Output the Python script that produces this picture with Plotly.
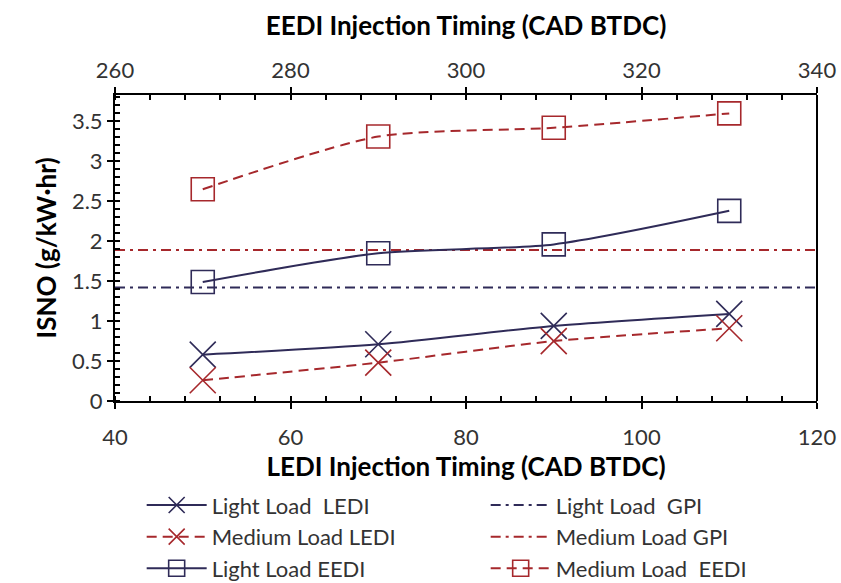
import plotly.graph_objects as go

# ---- data ----
ledi_timing = [50, 70, 90, 110]          # bottom axis (CAD BTDC)
eedi_timing = [270, 290, 310, 330]       # top axis (CAD BTDC)
light_ledi = [0.58, 0.71, 0.94, 1.09]
medium_ledi = [0.26, 0.48, 0.75, 0.91]
light_eedi = [1.49, 1.85, 1.96, 2.38]
medium_eedi = [2.65, 3.31, 3.42, 3.60]
light_gpi = 1.42
medium_gpi = 1.89

x_range = [40, 120]
x2_range = [260, 340]
y_range = [0, 3.83]

NAVY = "#2f2b58"
RED = "#a6282c"
FONT = "Lato, Open Sans, sans-serif"
TXT = "#333333"
DASH = "10px,6px"
DASHDOT = "10px,5px,3px,5px"

fig = go.Figure()

fig.add_trace(go.Scatter(
    x=ledi_timing, y=light_ledi, name="Light Load  LEDI",
    mode="lines+markers", line=dict(color=NAVY, width=2, shape="spline", smoothing=0.7),
    marker=dict(symbol="x-thin-open", size=26, line=dict(color=NAVY, width=1.6)),
))
fig.add_trace(go.Scatter(
    x=x_range, y=[light_gpi, light_gpi], name="Light Load  GPI",
    mode="lines", line=dict(color=NAVY, width=2, dash=DASHDOT),
))
fig.add_trace(go.Scatter(
    x=ledi_timing, y=medium_ledi, name="Medium Load LEDI",
    mode="lines+markers", line=dict(color=RED, width=2, dash=DASH, shape="spline", smoothing=0.7),
    marker=dict(symbol="x-thin-open", size=26, line=dict(color=RED, width=1.6)),
))
fig.add_trace(go.Scatter(
    x=x_range, y=[medium_gpi, medium_gpi], name="Medium Load GPI",
    mode="lines", line=dict(color=RED, width=2, dash=DASHDOT),
))
fig.add_trace(go.Scatter(
    x=eedi_timing, y=light_eedi, name="Light Load EEDI", xaxis="x2",
    mode="lines+markers", line=dict(color=NAVY, width=2, shape="spline", smoothing=0.7),
    marker=dict(symbol="square-open", size=23, line=dict(color=NAVY, width=1.6)),
))
fig.add_trace(go.Scatter(
    x=eedi_timing, y=medium_eedi, name="Medium Load  EEDI", xaxis="x2",
    mode="lines+markers", line=dict(color=RED, width=2, dash=DASH, shape="spline", smoothing=0.7),
    marker=dict(symbol="square-open", size=23, line=dict(color=RED, width=1.6)),
))

axis_common = dict(
    showgrid=False, zeroline=False, showline=True, linecolor="black", linewidth=2,
    ticks="outside", ticklen=6, tickwidth=2, tickcolor="black", automargin=False,
    tickfont=dict(family=FONT, size=22, color=TXT),
)
minor_common = dict(ticks="inside", ticklen=5, tickwidth=1.5, tickcolor="black")
title_font = dict(family=FONT, size=26, color="black")

fig.update_layout(
    width=841, height=583,
    margin=dict(l=115, r=24, t=95, b=182, autoexpand=False),
    paper_bgcolor="white", plot_bgcolor="white",
    font=dict(family=FONT, color=TXT),
    xaxis=dict(
        **axis_common, range=x_range, dtick=20, tick0=40, ticklabelstandoff=10,
        minor=dict(dtick=4, **minor_common),
        title=dict(text="<b>LEDI Injection Timing (CAD BTDC)</b>", font=title_font, standoff=6),
    ),
    xaxis2=dict(
        **axis_common, range=x2_range, dtick=20, tick0=260,
        overlaying="x", side="top",
        minor=dict(dtick=4, **minor_common),
        title=dict(text="<b>EEDI Injection Timing (CAD BTDC)</b>", font=title_font, standoff=13),
    ),
    yaxis=dict(
        **axis_common, range=y_range, dtick=0.5, tick0=0,
        minor=dict(dtick=0.1, **minor_common),
        title=dict(text="<b>ISNO (g/kW·hr)</b>", font=title_font, standoff=8),
    ),
    showlegend=True,
    legend=dict(
        orientation="h", x=0.038, xanchor="left", y=-0.272, yanchor="top",
        entrywidth=269, entrywidthmode="pixels",
        font=dict(family=FONT, size=22, color=TXT),
        tracegroupgap=0, itemwidth=60,
        bgcolor="rgba(0,0,0,0)",
    ),
)

# right border line
fig.add_shape(type="line", xref="paper", yref="paper", x0=1, x1=1, y0=0, y1=1,
              line=dict(color="black", width=2))

fig.write_html("out.html")
